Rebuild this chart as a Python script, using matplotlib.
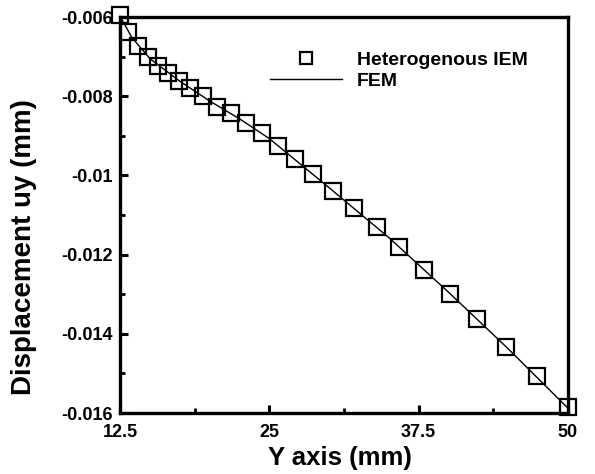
import matplotlib
matplotlib.use('Agg')
import matplotlib.pyplot as plt
from matplotlib.ticker import FixedLocator, FuncFormatter, MultipleLocator

plt.rcParams['font.family'] = ['Liberation Sans', 'DejaVu Sans']
plt.rcParams['font.weight'] = 'bold'
plt.rcParams['axes.unicode_minus'] = False

# heterogenous IEM results (squares)
iem_x = [12.5, 13.17, 14.0, 14.84, 15.68, 16.52, 17.44, 18.36, 19.45, 20.62,
         21.79, 23.05, 24.39, 25.73, 27.15, 28.66, 30.33, 32.09, 34.02, 35.86,
         37.95, 40.13, 42.39, 44.82, 47.41, 50.0]
iem_y = [-0.00595, -0.00638, -0.00673, -0.00701, -0.00724, -0.00741, -0.00762,
         -0.00779, -0.00799, -0.00827, -0.00842, -0.00867, -0.00892, -0.00925,
         -0.00959, -0.00996, -0.01039, -0.01082, -0.01130, -0.01181, -0.01239,
         -0.01299, -0.01363, -0.01433, -0.01507, -0.01585]

# FEM reference (line)
fem_x = [12.5, 13.5, 15, 17.5, 20, 22.5, 25, 30, 35, 40, 45, 50]
fem_y = [-0.00598, -0.00652, -0.00705, -0.00762, -0.00812, -0.00857, -0.00907,
         -0.01031, -0.01157, -0.01295, -0.01438, -0.01588]

fig = plt.figure(figsize=(5.95, 4.74), dpi=100)
ax = fig.add_axes([120 / 595, 1 - 413 / 474, 448 / 595, 396 / 474])

ax.plot(iem_x, iem_y, 's', markersize=11, markerfacecolor='none',
        markeredgecolor='black', markeredgewidth=1.6, label='Heterogenous IEM',
        clip_on=False, zorder=3)
ax.plot(fem_x, fem_y, '-', color='black', linewidth=1.0, label='FEM', zorder=2)

ax.set_xlim(12.5, 50)
ax.set_ylim(-0.016, -0.006)

ax.xaxis.set_major_locator(FixedLocator([12.5, 25, 37.5, 50]))
ax.xaxis.set_minor_locator(FixedLocator([18.75, 31.25, 43.75]))
ax.yaxis.set_major_locator(MultipleLocator(0.002))
ax.yaxis.set_minor_locator(MultipleLocator(0.001))
fmt = FuncFormatter(lambda v, p: '%g' % round(v, 6))
ax.xaxis.set_major_formatter(fmt)
ax.yaxis.set_major_formatter(fmt)

ax.tick_params(which='major', direction='in', length=6, width=2.2,
               labelsize=13, top=False, right=False)
ax.tick_params(which='minor', direction='in', length=3.5, width=2.0,
               top=False, right=False)
ax.tick_params(axis='x', pad=8)
ax.tick_params(axis='y', pad=5)

for s in ax.spines.values():
    s.set_linewidth(2.4)

ax.set_xlabel('Y axis (mm)', fontsize=18.5, fontweight='bold')
ax.xaxis.set_label_coords(0.49, -0.083)
ax.set_ylabel('Displacement uy (mm)', fontsize=20, fontweight='bold')
ax.yaxis.set_label_coords(-0.185, 0.42)

ax.legend(loc='upper left', bbox_to_anchor=(270 / 595, 1 - 51 / 474),
          bbox_transform=fig.transFigure, frameon=False, fontsize=14,
          handlelength=3.7, handletextpad=0.75, borderpad=0, borderaxespad=0,
          labelspacing=0.2, markerscale=0.85)

fig.savefig('out.png', dpi=100)
